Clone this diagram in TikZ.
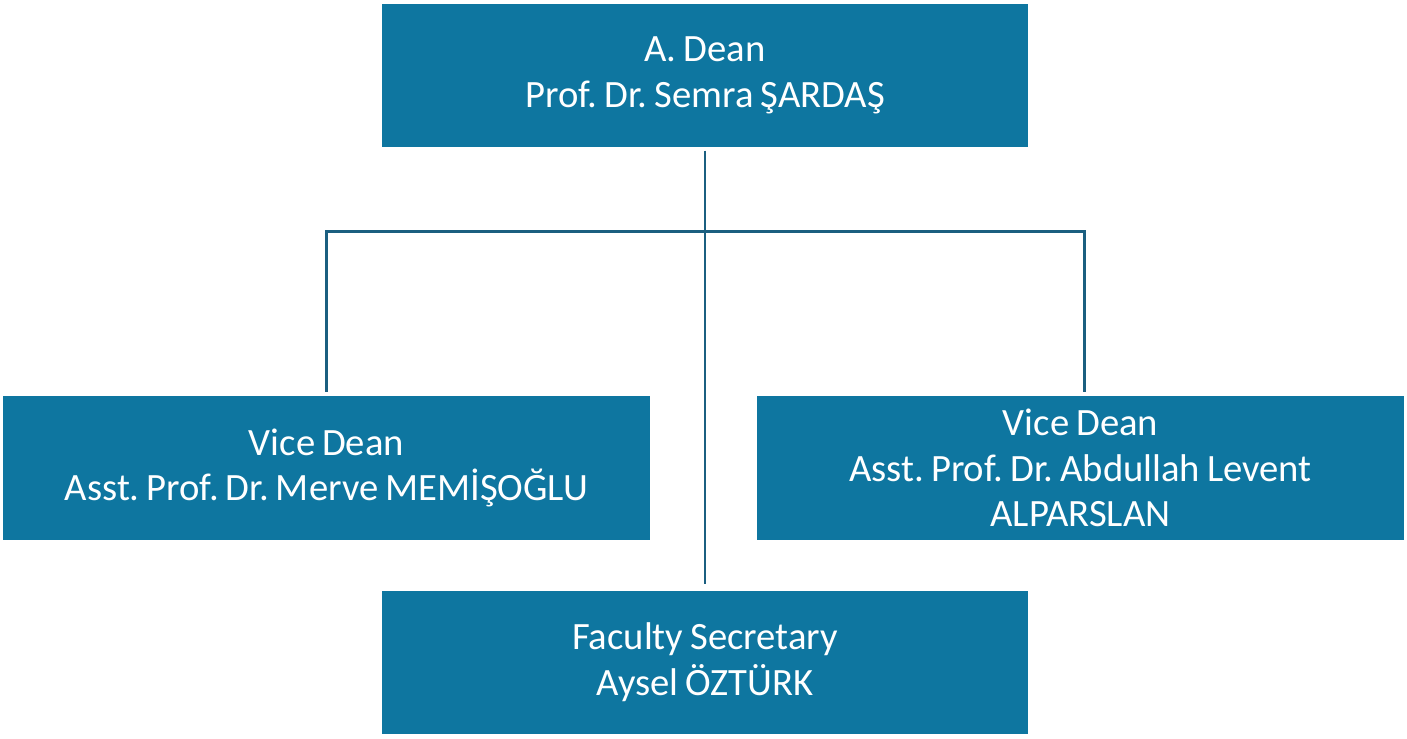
\documentclass[tikz,border=0pt]{standalone}
\usepackage{fontspec}
\setmainfont[WordSpace=0.8]{Carlito}
\usepackage{xcolor}
\usepackage{tikz}
\frenchspacing

\definecolor{boxblue}{HTML}{0E76A0}
\definecolor{linkblue}{HTML}{1B5F80}

\begin{document}
\begin{tikzpicture}[x=0.2mm, y=-0.2mm,
    orgbox/.style={fill=boxblue, text=white, align=center, inner sep=0pt,
        minimum width=129.2mm, minimum height=28.7mm,
        font=\fontsize{22}{26}\selectfont},
    link/.style={draw=linkblue, line width=1.7pt}]

    % Page frame
    \useasboundingbox (0,0) rectangle (1407,738);

    % The four boxes
    \node[orgbox] (dean) at (705,75.5) {A. Dean\\Prof. Dr. Semra ŞARDAŞ};
    \node[orgbox] (vdl) at (326.5,468) {Vice Dean\\Asst. Prof. Dr. Merve MEMİŞOĞLU};
    \node[orgbox, minimum width=129.4mm] (vdr) at (1080.5,468) {Vice Dean\\Asst. Prof. Dr. Abdullah Levent\\ALPARSLAN};
    \node[orgbox] (sec) at (705,662.5) {Faculty Secretary\\Aysel ÖZTÜRK};

    % Junction of the branches
    \coordinate (hub) at (705,231);

    % Dean down to the secretary
    \draw[link, shorten <=0.6mm, shorten >=1.2mm] (dean.south) -- (sec.north);

    % Branches to the vice deans
    \draw[link, shorten <=0.8mm, shorten >=0.8mm] (vdl.north) |- (hub) -| ([xshift=0.7mm]vdr.north);

\end{tikzpicture}
\end{document}
